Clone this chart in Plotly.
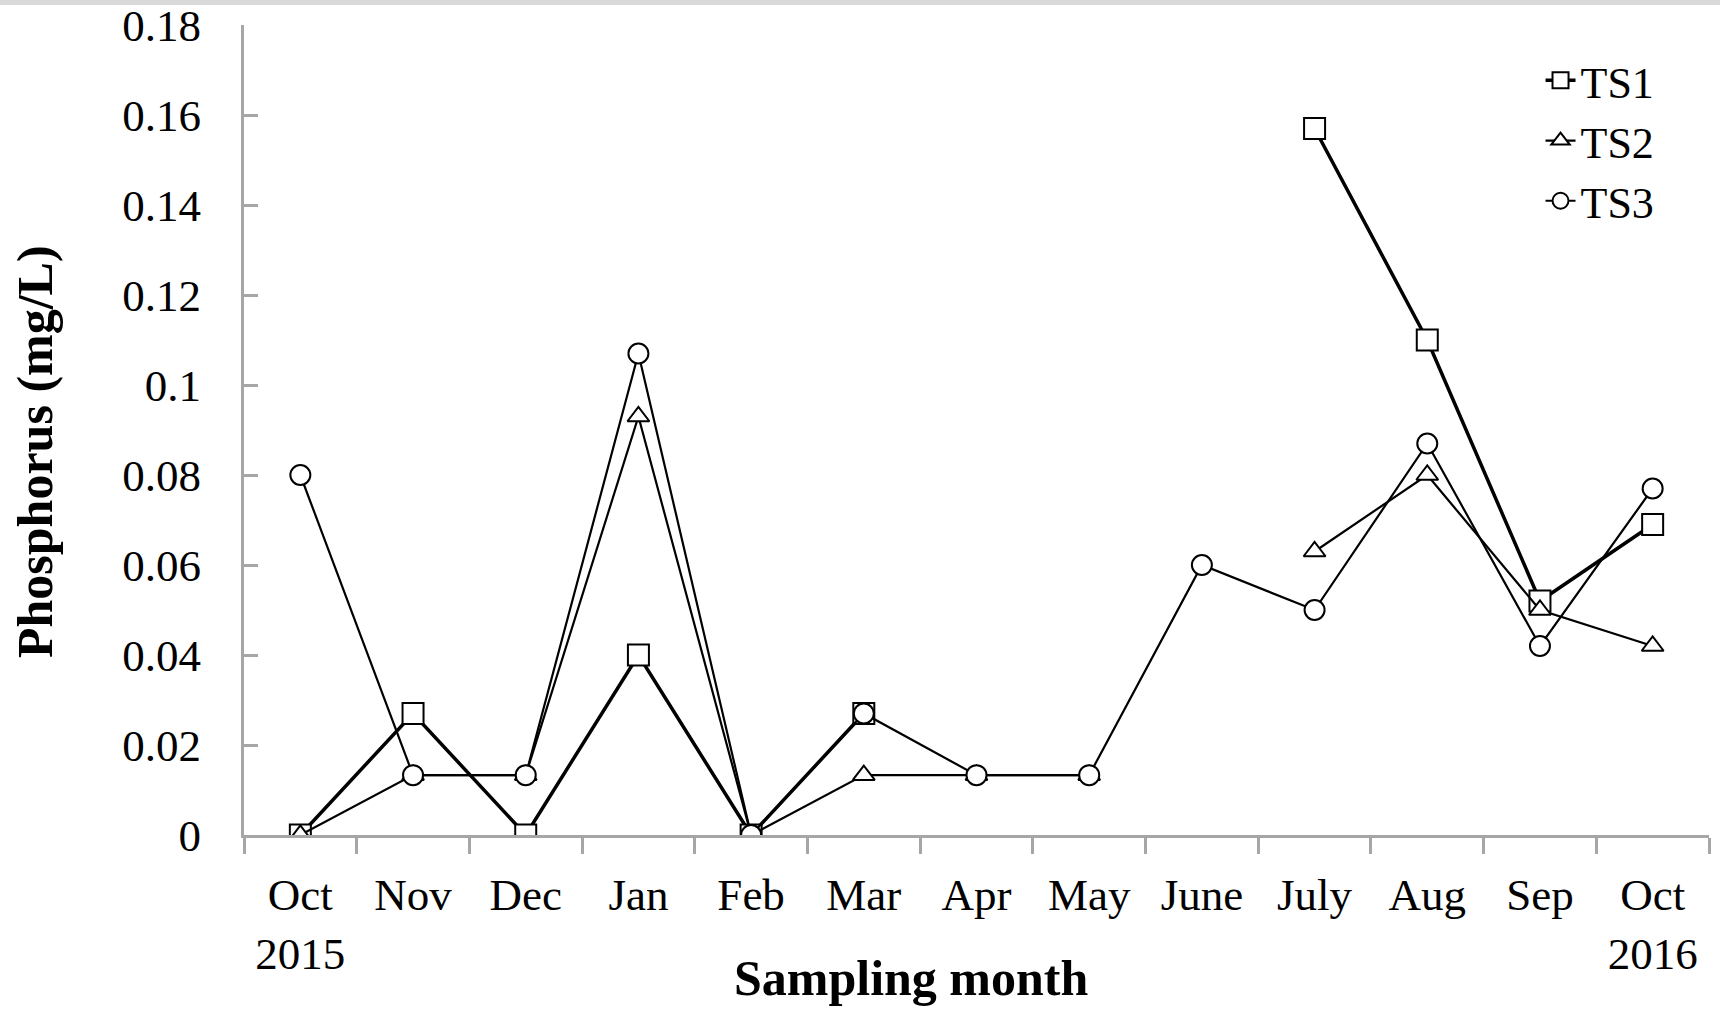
import plotly.graph_objects as go

# Sampling months (Oct 2015 - Oct 2016)
months = ["Oct<br>2015", "Nov", "Dec", "Jan", "Feb", "Mar", "Apr", "May",
          "June", "July", "Aug", "Sep", "Oct<br>2016"]

# Total phosphorus (mg/L) at the three sites; None = not sampled
ts1 = [0.0, 0.027, 0.0, 0.040, 0.0, 0.027, None, None, None, 0.157, 0.110, 0.052, 0.069]
ts2 = [0.0, 0.0133, 0.0133, 0.093, 0.0, 0.0133, 0.0133, 0.0133, None, 0.063, 0.080, 0.050, 0.042]
ts3 = [0.080, 0.0133, 0.0133, 0.107, 0.0, 0.027, 0.0133, 0.0133, 0.060, 0.050, 0.087, 0.042, 0.077]

y_ticks = [0, 0.02, 0.04, 0.06, 0.08, 0.1, 0.12, 0.14, 0.16, 0.18]
y_tick_text = ["0", "0.02", "0.04", "0.06", "0.08", "0.1", "0.12", "0.14", "0.16", "0.18"]

FONT = "Liberation Serif, Times New Roman, serif"
AXIS_GRAY = "#a6a6a6"

series = [
    ("TS1", ts1, "square", 21, 3.5),
    ("TS2", ts2, "triangle-up", 19, 2.2),
    ("TS3", ts3, "circle", 20, 2.2),
]

fig = go.Figure()
for name, vals, sym, size, lw in series:
    fig.add_trace(go.Scatter(
        x=months, y=vals, name=name, mode="lines+markers",
        connectgaps=False,
        line=dict(color="black", width=lw),
        marker=dict(symbol=sym, size=size, color="white",
                    line=dict(color="black", width=2)),
    ))

fig.update_layout(
    width=1720, height=1010,
    margin=dict(l=244, r=11, t=25, b=175),
    paper_bgcolor="white", plot_bgcolor="white",
    font=dict(family=FONT, size=45, color="black"),
    showlegend=True,
    legend=dict(x=0.885, y=0.975, xanchor="left", yanchor="top",
                bgcolor="rgba(0,0,0,0)", font=dict(size=44),
                tracegroupgap=0, itemsizing="trace"),
    xaxis=dict(
        type="category", categoryorder="array", categoryarray=months,
        range=[-0.5, 12.5], tickson="boundaries",
        showline=True, linecolor=AXIS_GRAY, linewidth=3,
        ticks="outside", ticklen=16, tickwidth=3, tickcolor=AXIS_GRAY,
        ticklabelstandoff=18, automargin=False,
        showgrid=False, zeroline=False, fixedrange=True,
    ),
    yaxis=dict(
        range=[0, 0.18], tickvals=y_ticks, ticktext=y_tick_text,
        showline=True, linecolor=AXIS_GRAY, linewidth=3,
        ticks="inside", ticklen=14, tickwidth=3, tickcolor=AXIS_GRAY,
        ticklabelstandoff=31, automargin=False,
        showgrid=False, zeroline=False, fixedrange=True,
    ),
    annotations=[
        dict(text="<b>Sampling month</b>", xref="paper", yref="paper",
             x=0.455, y=-0.176, xanchor="center", yanchor="middle",
             showarrow=False, font=dict(size=50, family=FONT)),
        dict(text="<b>Phosphorus (mg/L)</b>", xref="paper", yref="paper",
             x=-0.1427, y=0.474, xanchor="center", yanchor="middle",
             textangle=-90, showarrow=False, font=dict(size=50, family=FONT)),
    ],
    shapes=[
        dict(type="rect", xref="paper", yref="paper",
             x0=-0.2, x1=1.01, y0=1.0247, y1=1.05,
             fillcolor="#d9d9d9", line=dict(width=0), layer="below"),
    ],
)

fig.write_html("out.html")
